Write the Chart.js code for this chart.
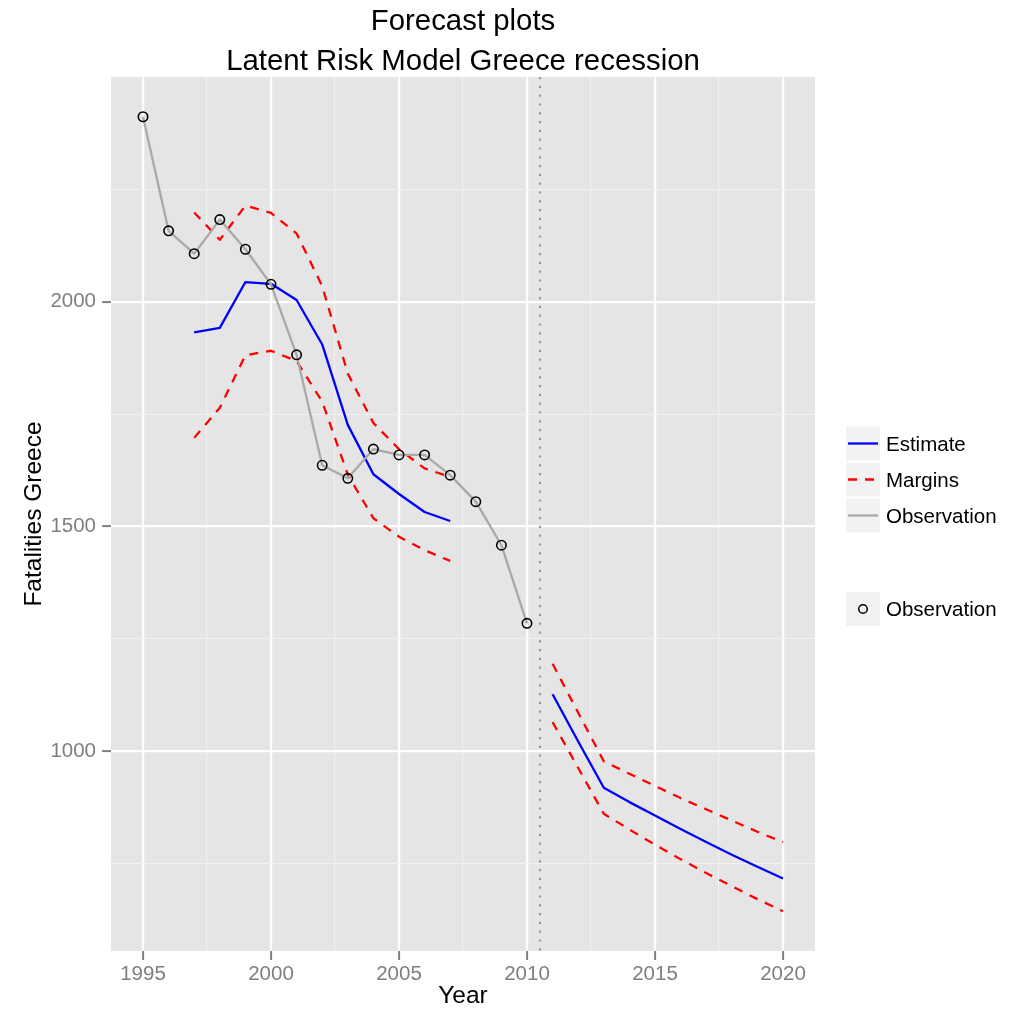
<!DOCTYPE html>
<html>
<head>
<meta charset="utf-8">
<script src="https://cdn.jsdelivr.net/npm/chart.js@4.4.1/dist/chart.umd.min.js"></script>
<style>
html,body{margin:0;padding:0;background:#ffffff;}
canvas{display:block;}
</style>
</head>
<body>
<canvas id="c" width="1019" height="1016"></canvas>
<script>
// ---- Text ----
const titleLines = ['Forecast plots', 'Latent Risk Model Greece recession'];
const xAxisTitle = 'Year';
const yAxisTitle = 'Fatalities Greece';
const legendLabels = ['Estimate', 'Margins', 'Observation'];
const pointLegendLabel = 'Observation';

// ---- Data ----
const obsYears = [1995,1996,1997,1998,1999,2000,2001,2002,2003,2004,2005,2006,2007,2008,2009,2010];
const observation = [2412,2158,2107,2183,2117,2039,1882,1636,1607,1672,1659,1659,1614,1555,1458,1284];

const histYears = [1997,1998,1999,2000,2001,2002,2003,2004,2005,2006,2007];
const estimateHist = [1932,1942,2044,2040,2004,1905,1726,1616,1572,1532,1512];
const upperHist = [2199,2138,2214,2198,2152,2035,1840,1730,1672,1629,1610];
const lowerHist = [1697,1764,1881,1891,1868,1778,1615,1518,1477,1447,1423];

const fcYears = [2011,2012,2013,2014,2015,2016,2017,2018,2019,2020];
const estimateFc = [1126,1021,918,886,856,826,797,769,742,716];
const upperFc = [1194,1085,977,949,922,895,870,845,820,797];
const lowerFc = [1064,962,860,825,791,759,728,699,670,643];

const forecastStart = 2010.5;

// ---- Ticks ----
const xMajorTicks = [1995,2000,2005,2010,2015,2020];
const xTickLabels = ['1995','2000','2005','2010','2015','2020'];
const xMinorTicks = [1997.5,2002.5,2007.5,2012.5,2017.5];
const yMajorTicks = [1000,1500,2000];
const yTickLabels = ['1000','1500','2000'];
const yMinorTicks = [750,1250,1750,2250];

const xLimits = [1993.75, 2021.25];
const yLimits = [554.5, 2500.5];

// ---- Styles ----
const FONT = "'Liberation Sans', Arial, Helvetica, sans-serif";
const C_EST = '#0000FF', C_MAR = '#FF0000', C_OBS = '#A9A9A9';
const LW = 2.3;
const DASH = [9, 8];

const pts = (xs, ys) => xs.map((x, i) => ({x: x, y: ys[i]}));

function tickList(major, minor) {
  return major.concat(minor).sort((a, b) => a - b).map(v => ({value: v}));
}

const panelBg = {
  id: 'panelBg',
  beforeDraw(chart) {
    const {ctx, chartArea: a} = chart;
    ctx.save();
    ctx.fillStyle = '#E5E5E5';
    ctx.fillRect(a.left, a.top, a.right - a.left, a.bottom - a.top);
    ctx.restore();
  }
};

const vLine = {
  id: 'vLine',
  beforeDatasetsDraw(chart) {
    const {ctx, chartArea: a, scales} = chart;
    const x = Math.round(scales.x.getPixelForValue(forecastStart));
    ctx.save();
    ctx.strokeStyle = '#999999';
    ctx.lineWidth = 2.2;
    ctx.setLineDash([2.2, 6.6]);
    ctx.beginPath();
    ctx.moveTo(x, a.top);
    ctx.lineTo(x, a.bottom);
    ctx.stroke();
    ctx.restore();
  }
};

const decor = {
  id: 'decor',
  afterDraw(chart) {
    const {ctx, chartArea: a} = chart;
    ctx.save();
    // Title
    ctx.fillStyle = '#000';
    ctx.font = '29.4px ' + FONT;
    ctx.textAlign = 'center';
    ctx.textBaseline = 'alphabetic';
    const cx = (a.left + a.right) / 2;
    ctx.fillText(titleLines[0], cx, 30);
    ctx.fillText(titleLines[1], cx, 70);

    // Legend
    const keyX = 846, keyW = 34, keyH = 34;
    const rows = [426.5, 462.5, 498.5];
    const styles = [
      {color: C_EST, dash: []},
      {color: C_MAR, dash: DASH},
      {color: C_OBS, dash: []}
    ];
    ctx.font = '20.5px ' + FONT;
    ctx.textAlign = 'left';
    rows.forEach((y, i) => {
      ctx.fillStyle = '#F2F2F2';
      ctx.fillRect(keyX, y, keyW, keyH);
      const cy = y + keyH / 2;
      ctx.strokeStyle = styles[i].color;
      ctx.lineWidth = LW;
      ctx.setLineDash(styles[i].dash);
      ctx.beginPath();
      ctx.moveTo(keyX + 2, cy);
      ctx.lineTo(keyX + keyW - 2, cy);
      ctx.stroke();
      ctx.setLineDash([]);
      ctx.fillStyle = '#000';
      ctx.fillText(legendLabels[i], 886, cy + 7.3);
    });
    const py = 592;
    ctx.fillStyle = '#F2F2F2';
    ctx.fillRect(keyX, py, keyW, keyH);
    ctx.strokeStyle = '#000';
    ctx.lineWidth = 1.5;
    ctx.beginPath();
    ctx.arc(keyX + keyW / 2, py + keyH / 2, 4.3, 0, Math.PI * 2);
    ctx.stroke();
    ctx.fillStyle = '#000';
    ctx.fillText(pointLegendLabel, 886, py + keyH / 2 + 7.3);
    ctx.restore();
  }
};

const lineDs = (label, data, color, dash, order) => ({
  label: label, data: data, borderColor: color, backgroundColor: color,
  borderWidth: LW, borderDash: dash, pointRadius: 0, tension: 0, fill: false,
  order: order, borderCapStyle: 'butt', borderJoinStyle: 'round'
});

new Chart(document.getElementById('c'), {
  type: 'line',
  data: {
    datasets: [
      {
        label: pointLegendLabel, data: pts(obsYears, observation), showLine: false,
        pointRadius: 4.7, pointBorderWidth: 1.6, pointBorderColor: '#000',
        pointBackgroundColor: 'rgba(0,0,0,0)', pointStyle: 'circle', order: 0
      },
      lineDs(legendLabels[2], pts(obsYears, observation), C_OBS, [], 1),
      lineDs(legendLabels[0], pts(histYears, estimateHist), C_EST, [], 3),
      lineDs(legendLabels[0], pts(fcYears, estimateFc), C_EST, [], 3),
      lineDs(legendLabels[1], pts(histYears, upperHist), C_MAR, DASH, 2),
      lineDs(legendLabels[1], pts(histYears, lowerHist), C_MAR, DASH, 2),
      lineDs(legendLabels[1], pts(fcYears, upperFc), C_MAR, DASH, 2),
      lineDs(legendLabels[1], pts(fcYears, lowerFc), C_MAR, DASH, 2)
    ]
  },
  options: {
    responsive: false,
    devicePixelRatio: 1,
    animation: false,
    events: [],
    layout: {padding: {left: 0, top: 77, right: 204, bottom: 0}},
    plugins: {legend: {display: false}, tooltip: {enabled: false}, title: {display: false}},
    scales: {
      x: {
        type: 'linear', position: 'bottom',
        min: xLimits[0], max: xLimits[1],
        afterBuildTicks: s => { s.ticks = tickList(xMajorTicks, xMinorTicks); },
        afterFit: s => { s.height = 65; },
        border: {display: false},
        grid: {
          color: c => xMajorTicks.includes(c.tick.value) ? '#FFFFFF' : '#F2F2F2',
          lineWidth: c => xMajorTicks.includes(c.tick.value) ? 2.2 : 1.1,
          drawTicks: true, tickLength: 9, tickWidth: 2,
          tickColor: c => xMajorTicks.includes(c.tick.value) ? '#7F7F7F' : 'rgba(0,0,0,0)'
        },
        ticks: {
          autoSkip: false, maxRotation: 0, minRotation: 0, padding: 2,
          color: '#7F7F7F', font: {family: FONT, size: 20.5},
          callback: v => { const i = xMajorTicks.indexOf(v); return i >= 0 ? xTickLabels[i] : ''; }
        },
        title: {display: true, text: xAxisTitle, color: '#000', font: {family: FONT, size: 24.5}, padding: {top: 0, bottom: 5}}
      },
      y: {
        type: 'linear', position: 'left',
        min: yLimits[0], max: yLimits[1],
        afterBuildTicks: s => { s.ticks = tickList(yMajorTicks, yMinorTicks); },
        afterFit: s => { s.width = 111; },
        border: {display: false},
        grid: {
          color: c => yMajorTicks.includes(c.tick.value) ? '#FFFFFF' : '#F2F2F2',
          lineWidth: c => yMajorTicks.includes(c.tick.value) ? 2.2 : 1.1,
          drawTicks: true, tickLength: 9, tickWidth: 2,
          tickColor: c => yMajorTicks.includes(c.tick.value) ? '#7F7F7F' : 'rgba(0,0,0,0)'
        },
        ticks: {
          autoSkip: false, padding: 6,
          color: '#7F7F7F', font: {family: FONT, size: 20.5},
          callback: v => { const i = yMajorTicks.indexOf(v); return i >= 0 ? yTickLabels[i] : ''; }
        },
        title: {display: true, text: yAxisTitle, color: '#000', font: {family: FONT, size: 24.5}, padding: {top: 20, bottom: 0}}
      }
    }
  },
  plugins: [panelBg, vLine, decor]
});
</script>
</body>
</html>
